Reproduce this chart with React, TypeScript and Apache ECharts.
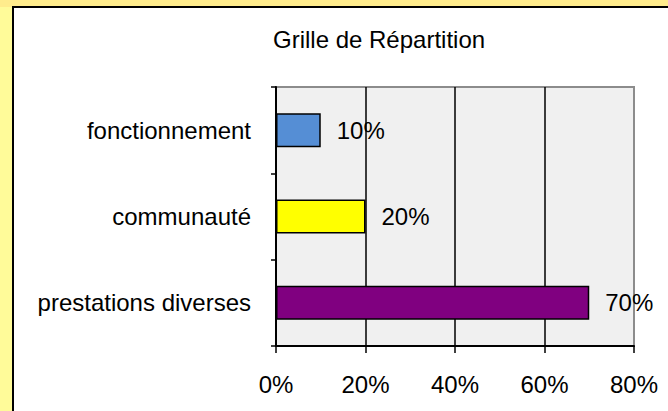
import React, { useEffect, useRef } from "react";
import * as echarts from "echarts";

const title = "Grille de Répartition";
const categories = ["prestations diverses", "communauté", "fonctionnement"];
const values = [70, 20, 10];
const barColors = ["#800080", "#FFFF00", "#558ED5"];
const xTicks = { min: 0, max: 80, interval: 20 };

const FONT = "'Liberation Sans', Arial, sans-serif";

export default function App() {
  const ref = useRef<HTMLDivElement>(null);
  useEffect(() => {
    document.body.style.margin = "0";
    if (!ref.current) return;
    const chart = echarts.init(ref.current, null, { renderer: "svg" });
    chart.setOption({
      animation: false,
      backgroundColor: "#ffffff",
      textStyle: { fontFamily: FONT },
      title: {
        text: title,
        left: 273,
        top: 27,
        padding: 0,
        textStyle: { fontFamily: FONT, fontSize: 24, fontWeight: "normal", color: "#000" },
      },
      graphic: [
        { type: "rect", z: -100, silent: true, shape: { x: 0, y: 0, width: 668, height: 411 }, style: { fill: "#FFFB99" } },
        { type: "rect", z: -99, silent: true, shape: { x: 0, y: 0, width: 668, height: 7 }, style: { fill: "#FFEC8C" } },
        { type: "rect", z: -98, silent: true, shape: { x: 13, y: 7, width: 700, height: 500 }, style: { fill: "#ffffff", stroke: "#000000", lineWidth: 2 } },
      ],
      grid: {
        left: 276,
        right: 34,
        top: 87,
        bottom: 65,
        show: true,
        backgroundColor: "#F0F0F0",
        borderColor: "#8C8C8C",
        borderWidth: 2,
        containLabel: false,
      },
      xAxis: {
        type: "value",
        min: xTicks.min,
        max: xTicks.max,
        interval: xTicks.interval,
        axisLine: { show: true, lineStyle: { color: "#000", width: 2 } },
        axisTick: { show: true, length: 7, lineStyle: { color: "#000", width: 1.5 } },
        axisLabel: { formatter: "{value}%", fontSize: 24, color: "#000", fontFamily: FONT, margin: 26 },
        splitLine: { show: true, showMinLine: false, showMaxLine: false, lineStyle: { color: "#000", width: 1.5 } },
      },
      yAxis: {
        type: "category",
        data: categories,
        axisLine: { show: true, lineStyle: { color: "#000", width: 2 } },
        axisTick: { show: true, length: 5, lineStyle: { color: "#000", width: 1.5 } },
        axisLabel: { fontSize: 24, color: "#000", fontFamily: FONT, margin: 25 },
        splitLine: { show: false },
      },
      series: [
        {
          type: "bar",
          data: values.map((v, i) => ({ value: v, itemStyle: { color: barColors[i] } })),
          barWidth: 34,
          itemStyle: { borderColor: "#000", borderWidth: 1.5 },
          label: {
            show: true,
            position: "right",
            distance: 16,
            formatter: "{c}%",
            fontSize: 24,
            color: "#000",
            fontFamily: FONT,
          },
        },
      ],
    });
    return () => chart.dispose();
  }, []);
  return <div ref={ref} style={{ position: "absolute", left: 0, top: 0, width: 668, height: 411 }} />;
}
